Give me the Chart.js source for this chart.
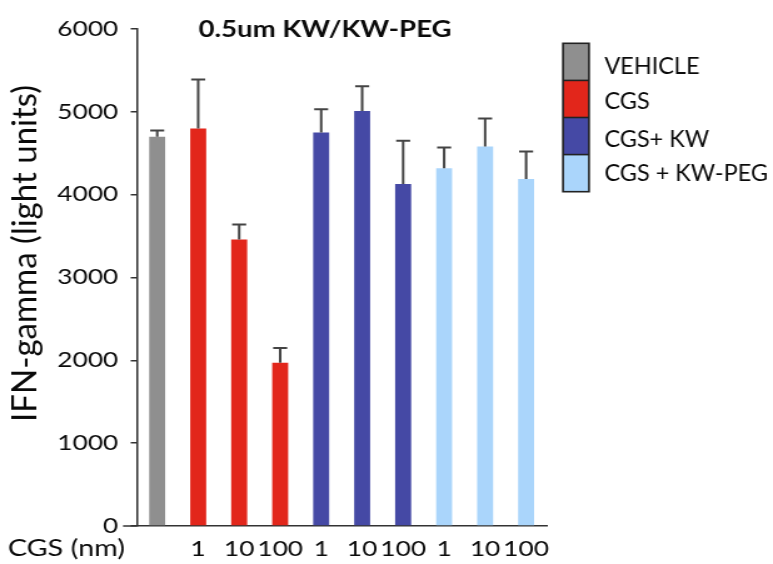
<!DOCTYPE html>
<html>
<head>
<meta charset="utf-8">
<script src="https://cdn.jsdelivr.net/npm/chart.js@4.4.1/dist/chart.umd.min.js"></script>
<style>
  html, body { margin: 0; padding: 0; background: #fff; overflow: hidden; }
  #wrap { position: absolute; left: 0; top: 0; width: 618px; height: 564px; transform: scaleX(1.25081); transform-origin: 0 0; }
</style>
</head>
<body>
<div id="wrap"><canvas id="c"></canvas></div>
<script>
// ---- data ----
const categories = ['', '1', '10', '100', '1', '10', '100', '1', '10', '100'];
const groups = ['VEHICLE', 'CGS', 'CGS+ KW', 'CGS + KW-PEG'];
const groupColors = ['#8f8f8f', '#e2261b', '#4549a5', '#aad5fb'];
const barGroup = [0, 1, 1, 1, 2, 2, 2, 3, 3, 3];
const values = [4700, 4800, 3460, 1970, 4750, 5010, 4130, 4320, 4580, 4190];
const errors = [75, 590, 180, 180, 280, 300, 520, 250, 340, 330];
const yTicks = [0, 1000, 2000, 3000, 4000, 5000, 6000];
const titleText = '0.5um KW/KW-PEG';
const yTitle = 'IFN-gamma (light units)';
const xTitle = 'CGS (nm)';

// ---- layout ----
const S = 773 / 618;            // horizontal stretch of the whole figure
const px = x => x / S;          // page x -> canvas x
const TEXT = '#0a0a0a';
const AXIS = '#333';

function unstretchedText(ctx, text, pageX, y, font, align, baseline, rot) {
  ctx.save();
  ctx.translate(px(pageX), y);
  ctx.scale(1 / S, 1);
  if (rot) ctx.rotate(rot);
  ctx.font = font;
  ctx.fillStyle = TEXT;
  ctx.textAlign = align;
  ctx.textBaseline = baseline;
  ctx.fillText(text, 0, 0);
  ctx.restore();
}

const extras = {
  id: 'extras',
  afterDatasetsDraw(chart) {
    const ctx = chart.ctx;
    const meta = chart.getDatasetMeta(0);
    const y = chart.scales.y;
    ctx.save();
    ctx.strokeStyle = '#444';
    ctx.lineWidth = 2;
    meta.data.forEach((bar, i) => {
      const top = y.getPixelForValue(values[i]);
      const tip = y.getPixelForValue(values[i] + errors[i]);
      ctx.beginPath();
      ctx.moveTo(bar.x, top);
      ctx.lineTo(bar.x, tip);
      ctx.moveTo(bar.x - 5.6, tip);
      ctx.lineTo(bar.x + 5.6, tip);
      ctx.stroke();
    });
    ctx.restore();
  },
  afterDraw(chart) {
    const ctx = chart.ctx;
    const y = chart.scales.y;
    const area = chart.chartArea;
    // extended zero tick
    ctx.save();
    ctx.strokeStyle = AXIS;
    ctx.lineWidth = 1.5;
    const y0 = y.getPixelForValue(0);
    ctx.beginPath();
    ctx.moveTo(px(123), y0);
    ctx.lineTo(area.left, y0);
    ctx.stroke();
    ctx.restore();

    // title
    ctx.save();
    ctx.font = 'bold 22px Lato';
    ctx.fillStyle = TEXT;
    ctx.textAlign = 'center';
    ctx.textBaseline = 'middle';
    ctx.fillText(titleText, px(325), 30);
    // x label
    ctx.font = '23px Lato';
    ctx.textAlign = 'right';
    ctx.fillText(xTitle, px(125), 549);
    ctx.restore();

    // y title (not stretched)
    unstretchedText(ctx, yTitle, 36.7, 253.4, '33px Lato', 'center', 'alphabetic', -Math.PI / 2);

    // legend
    const lx = px(563), lw = px(589) - px(563);
    const top = 43.3, h = 37.1;
    ctx.save();
    groups.forEach((g, i) => {
      ctx.fillStyle = groupColors[i];
      ctx.fillRect(lx, top + i * h, lw, h);
    });
    ctx.strokeStyle = '#222';
    ctx.lineWidth = 1.6;
    ctx.strokeRect(lx, top, lw, h * groups.length);
    for (let i = 1; i < groups.length; i++) {
      ctx.beginPath();
      ctx.moveTo(lx, top + i * h);
      ctx.lineTo(lx + lw, top + i * h);
      ctx.stroke();
    }
    ctx.restore();
    const textYs = [66.5, 101, 139, 173.5];
    groups.forEach((g, i) => {
      unstretchedText(ctx, g, 604.3, textYs[i], '23.5px Lato', 'left', 'middle', 0);
    });
  }
};

new Chart(document.getElementById('c'), {
  type: 'bar',
  data: {
    labels: categories,
    datasets: [{
      data: values,
      backgroundColor: barGroup.map(g => groupColors[g]),
      borderWidth: 0,
      barPercentage: 0.39,
      categoryPercentage: 1.0
    }]
  },
  options: {
    responsive: true,
    maintainAspectRatio: false,
    animation: false,
    devicePixelRatio: 1,
    layout: { padding: { top: 29, right: 181, bottom: 0, left: 0 } },
    plugins: { legend: { display: false }, title: { display: false }, tooltip: { enabled: false } },
    scales: {
      x: {
        offset: true,
        grid: { display: false, drawTicks: false },
        border: { display: true, color: AXIS, width: 1.5 },
        ticks: { font: { family: 'Lato', size: 21 }, color: TEXT, padding: 11, maxRotation: 0, autoSkip: false },
        afterFit(scale) { scale.height = 38; }
      },
      y: {
        min: 0, max: 6000,
        afterBuildTicks(scale) { scale.ticks = yTicks.map(v => ({ value: v })); },
        grid: { drawOnChartArea: false, drawTicks: true, tickLength: 4.8, color: AXIS, lineWidth: 1.5 },
        border: { display: true, color: AXIS, width: 1.5 },
        ticks: { font: { family: 'Lato', size: 21 }, color: TEXT, padding: 10, callback: v => String(v) },
        afterFit(scale) { scale.width = px(136.7); }
      }
    }
  },
  plugins: [extras]
});
</script>
</body>
</html>
